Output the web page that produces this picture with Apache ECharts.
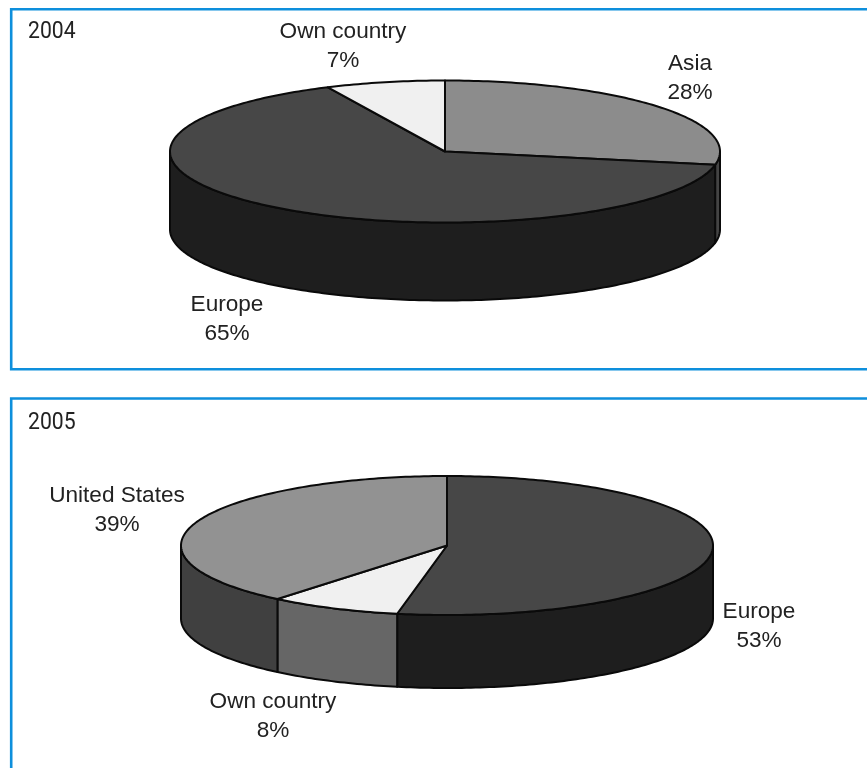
<!DOCTYPE html>
<html>
<head>
<meta charset="utf-8">
<style>html,body{margin:0;padding:0;background:#fff}#chart{width:867px;height:768px}</style>
<script src="https://cdn.jsdelivr.net/npm/echarts@6/dist/echarts.min.js"></script>
</head>
<body>
<div id="chart"></div>
<script>
// Market share by region, one tilted pie per year
const categories2004 = ['Asia', 'Europe', 'Own country'];
const values2004 = [28, 65, 7];
const categories2005 = ['Europe', 'Own country', 'United States'];
const values2005 = [53, 8, 39];

// Slice faces: top colour and side-wall colour
const topColors2004 = ['#8c8c8c', '#474747', '#f0f0f0'];
const wallColors2004 = ['#444444', '#1e1e1e', '#666666'];
const topColors2005 = ['#474747', '#f0f0f0', '#929292'];
const wallColors2005 = ['#1e1e1e', '#666666', '#404040'];

// Disc geometry and label anchors for each panel
const layout2004 = { year: '2004', yearY: 32, cx: 445, cy: 151.5, rx: 275, ry: 71, depth: 78,
  labels: [[690, 64], [227, 305], [343, 32]] };
const layout2005 = { year: '2005', yearY: 423, cx: 447, cy: 545.5, rx: 266, ry: 69.5, depth: 73,
  labels: [[759, 612], [273, 702], [117, 496]] };

const EDGE = { stroke: '#0a0a0a', lineWidth: 2, lineJoin: 'round' };
const STEP = Math.PI / 180;

// Angle measured clockwise from the top of the disc
function rimPoint(g, a, drop) {
  return [g.cx + g.rx * Math.sin(a), g.cy - g.ry * Math.cos(a) + drop];
}

function arcPoints(g, from, to, drop) {
  const pts = [];
  const n = Math.max(2, Math.ceil((to - from) / STEP));
  for (let i = 0; i <= n; i++) pts.push(rimPoint(g, from + (to - from) * i / n, drop));
  return pts;
}

function pieSeries(categories, values, topColors, wallColors, g) {
  const total = values.reduce((a, b) => a + b, 0);
  const spans = [];
  let acc = 0;
  values.forEach(v => {
    spans.push([acc / total * 2 * Math.PI, (acc + v) / total * 2 * Math.PI]);
    acc += v;
  });
  return {
    type: 'custom',
    coordinateSystem: 'none',
    silent: true,
    data: values,
    renderItem(params) {
      const i = params.dataIndex;
      const [a0, a1] = spans[i];
      const children = [];
      // The wall is visible only along the front half of the rim
      const w0 = Math.max(a0, Math.PI / 2);
      const w1 = Math.min(a1, Math.PI * 1.5);
      if (w1 > w0) {
        const wall = arcPoints(g, w0, w1, 0).concat(arcPoints(g, w0, w1, g.depth).reverse());
        children.push({ type: 'polygon', shape: { points: wall },
          style: Object.assign({ fill: wallColors[i] }, EDGE) });
      }
      const top = [[g.cx, g.cy]].concat(arcPoints(g, a0, a1, 0));
      children.push({ type: 'polygon', z2: 2, shape: { points: top },
        style: Object.assign({ fill: topColors[i] }, EDGE) });
      const [lx, ly] = g.labels[i];
      children.push({ type: 'text', z2: 3, x: lx, y: ly + 14.5, style: {
        text: categories[i] + '\n' + values[i] + '%',
        fill: '#222', font: '22.6px "Liberation Sans", Arial, sans-serif',
        align: 'center', verticalAlign: 'middle', lineHeight: 28.6 } });
      return { type: 'group', children };
    }
  };
}

function panelFrame(y, h) {
  return { type: 'rect', shape: { x: 11.2, y, width: 920, height: h },
    style: { fill: 'none', stroke: '#0e8fdc', lineWidth: 2.6 } };
}

function yearText(g) {
  return { type: 'text', x: 28, y: g.yearY, scaleX: 0.92, style: {
    text: g.year, fill: '#222', font: '400 23px Roboto, sans-serif',
    verticalAlign: 'middle' } };
}

const chart = echarts.init(document.getElementById('chart'), null, { renderer: 'canvas' });
chart.setOption({
  animation: false,
  backgroundColor: '#ffffff',
  graphic: [panelFrame(9.2, 360), panelFrame(398.5, 500), yearText(layout2004), yearText(layout2005)],
  series: [
    pieSeries(categories2004, values2004, topColors2004, wallColors2004, layout2004),
    pieSeries(categories2005, values2005, topColors2005, wallColors2005, layout2005)
  ]
});
</script>
</body>
</html>
